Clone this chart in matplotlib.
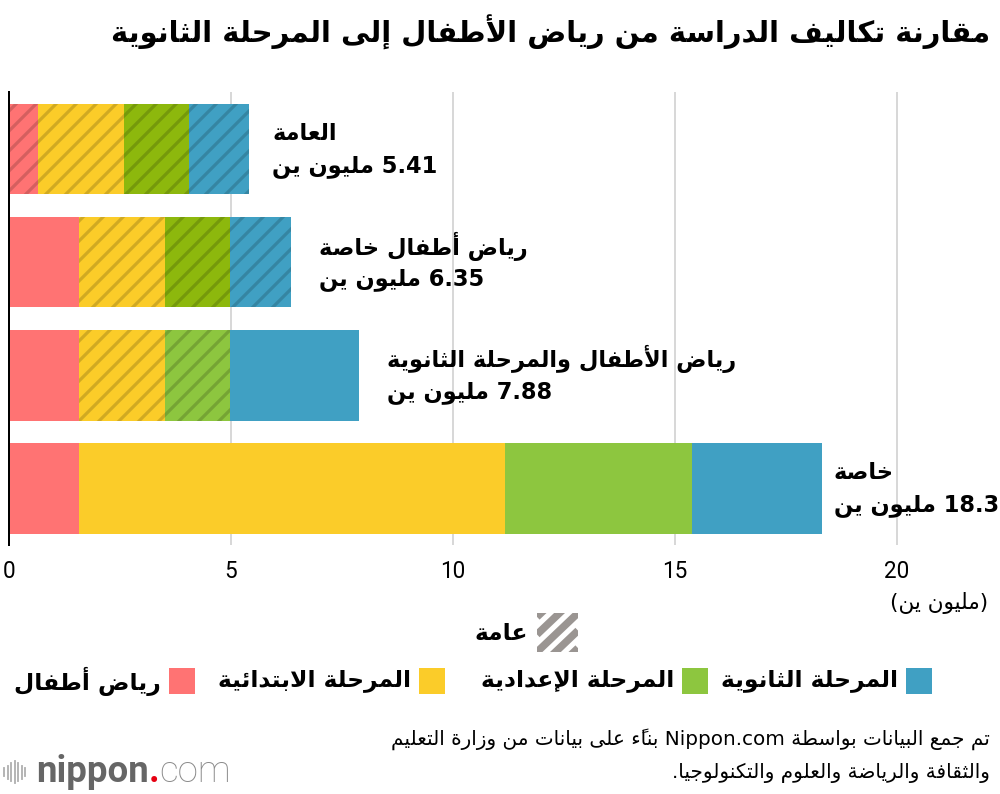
import matplotlib
matplotlib.use('Agg')
import matplotlib.pyplot as plt
import matplotlib.colors as mcolors
from matplotlib.patches import Rectangle
from matplotlib.lines import Line2D

# ---- data (millions of yen) ----
groups = ['العامة', 'رياض أطفال خاصة', 'رياض الأطفال والمرحلة الثانوية', 'خاصة']
totals = ['5.41', '6.35', '7.88', '18.3']
stages = ['رياض أطفال', 'المرحلة الابتدائية', 'المرحلة الإعدادية', 'المرحلة الثانوية']
kindergarten = [0.65, 1.58, 1.58, 1.58]
primary = [1.93, 1.93, 1.93, 9.59]
junior_high = [1.47, 1.47, 1.47, 4.22]
senior_high = [1.36, 1.37, 2.90, 2.91]
kindergarten_public = [True, False, False, False]
primary_public = [True, True, True, False]
junior_high_public = [True, True, True, False]
senior_high_public = [True, True, False, False]
x_ticks = [0, 5, 10, 15, 20]

title = 'مقارنة تكاليف الدراسة من رياض الأطفال إلى المرحلة الثانوية'
unit_label = '(مليون ين)'
public_label = 'عامة'
source_lines = ['تم جمع البيانات بواسطة Nippon.com بناءً على بيانات من وزارة التعليم',
                'والثقافة والرياضة والعلوم والتكنولوجيا.']

# ---- simple arabic shaping + bidi (matplotlib has no complex text layout) ----
HARAKAT = set(chr(c) for c in range(0x064B, 0x0653))
RIGHT_JOIN = {'آ': 0xFE81, 'أ': 0xFE83, 'ؤ': 0xFE85, 'إ': 0xFE87, 'ا': 0xFE8D, 'ة': 0xFE93,
              'د': 0xFEA9, 'ذ': 0xFEAB, 'ر': 0xFEAD, 'ز': 0xFEAF, 'و': 0xFEED, 'ى': 0xFEEF}
DUAL_JOIN = {'ئ': 0xFE89, 'ب': 0xFE8F, 'ت': 0xFE95, 'ث': 0xFE99, 'ج': 0xFE9D, 'ح': 0xFEA1,
             'خ': 0xFEA5, 'س': 0xFEB1, 'ش': 0xFEB5, 'ص': 0xFEB9, 'ض': 0xFEBD, 'ط': 0xFEC1,
             'ظ': 0xFEC5, 'ع': 0xFEC9, 'غ': 0xFECD, 'ف': 0xFED1, 'ق': 0xFED5, 'ك': 0xFED9,
             'ل': 0xFEDD, 'م': 0xFEE1, 'ن': 0xFEE5, 'ه': 0xFEE9, 'ي': 0xFEF1}
LAM_ALEF = {'آ': 0xFEF5, 'أ': 0xFEF7, 'إ': 0xFEF9, 'ا': 0xFEFB}
MIRROR = {'(': ')', ')': '('}


def ar(text):
    units = []  # [joining type, base code or char, marks]
    i = 0
    while i < len(text):
        c = text[i]
        if c in HARAKAT and units:
            units[-1][2] += c
        elif c == 'ل' and i + 1 < len(text) and text[i + 1] in LAM_ALEF:
            units.append(['R', LAM_ALEF[text[i + 1]], ''])
            i += 1
        elif c in DUAL_JOIN:
            units.append(['D', DUAL_JOIN[c], ''])
        elif c in RIGHT_JOIN:
            units.append(['R', RIGHT_JOIN[c], ''])
        elif c == 'ء':
            units.append(['U', 0xFE80, ''])
        else:
            units.append([None, c, ''])
        i += 1

    clusters = []
    for k, u in enumerate(units):
        t = u[0]
        if t is None:
            cls = 'L' if (u[1].isascii() and u[1].isalnum()) else 'N'
            clusters.append([cls, u[1]])
            continue
        prev_t = units[k - 1][0] if k > 0 else None
        next_t = units[k + 1][0] if k + 1 < len(units) else None
        jp = prev_t == 'D' and t in ('D', 'R')
        jn = t == 'D' and next_t in ('D', 'R')
        code = u[1]
        if t == 'D':
            code += {(False, False): 0, (True, False): 1, (False, True): 2, (True, True): 3}[(jp, jn)]
        elif t == 'R' and jp:
            code += 1
        clusters.append(['R', chr(code) + u[2]])

    # resolve neutrals (paragraph direction RTL)
    classes = [c[0] for c in clusters]
    for k, c in enumerate(classes):
        if c != 'N':
            continue
        before = next((x for x in reversed(classes[:k]) if x != 'N'), 'R')
        after = next((x for x in classes[k + 1:] if x != 'N'), 'R')
        clusters[k][0] = 'L' if (before == 'L' and after == 'L') else 'R'

    runs = []
    for cls, g in clusters:
        if runs and runs[-1][0] == cls:
            runs[-1][1].append(g)
        else:
            runs.append([cls, [g]])
    out = ''
    for cls, gs in reversed(runs):
        if cls == 'R':
            out += ''.join(MIRROR.get(g, g) for g in reversed(gs))
        else:
            out += ''.join(gs)
    return out


# ---- style ----
W, H, DPI = 1000, 794, 120
plt.rcParams['font.family'] = ['DejaVu Sans']
plt.rcParams['hatch.linewidth'] = 1.9

stage_colors = ['#FF7373', '#FBCC29', '#8DC63F', '#40A0C3']
green_dark = '#8DB80D'   # the public green in the first two bars is more olive


def fx(px):
    return px / W


def fy(py):
    return 1 - py / H


def darker(c, f=0.83):
    r, g, b = mcolors.to_rgb(c)
    return (r * f, g * f, b * f)


fig = plt.figure(figsize=(W / DPI, H / DPI), dpi=DPI)
px_per_unit = 44.4
ax = fig.add_axes([fx(9), fy(545), 22 * px_per_unit / W, (545 - 92.5) / H])

values = [kindergarten, primary, junior_high, senior_high]
public = [kindergarten_public, primary_public, junior_high_public, senior_high_public]
ypos = list(range(len(groups)))
left = [0.0] * len(groups)
for s in range(len(stages)):
    for i in ypos:
        col = stage_colors[s]
        if s == 2 and i < 2:
            col = green_dark
        if public[s][i]:
            ax.barh(i, values[s][i], left=left[i], height=0.8, color=col,
                    edgecolor=darker(col), linewidth=0, hatch='//', zorder=3)
        else:
            ax.barh(i, values[s][i], left=left[i], height=0.8, color=col,
                    linewidth=0, zorder=3)
    left = [left[i] + values[s][i] for i in ypos]

# labels at the bar ends
label_offsets = [23, 28, 28, 12]
for i in ypos:
    ax.annotate(ar(groups[i]), xy=(left[i], i), xytext=(label_offsets[i], 16),
                textcoords='offset pixels', ha='left', va='center',
                fontsize=13.5, fontweight='bold', annotation_clip=False)
    ax.annotate(ar(totals[i] + ' مليون ين'), xy=(left[i], i), xytext=(label_offsets[i], -17),
                textcoords='offset pixels', ha='left', va='center',
                fontsize=13.5, fontweight='bold', annotation_clip=False)

ax.set_xlim(0, 22)
ax.set_ylim(3.5, -0.5)
ax.set_xticks(x_ticks)
ax.set_xticklabels([str(t) for t in x_ticks], family='Roboto', fontsize=13.5)
ax.set_yticks([])
ax.tick_params(axis='x', length=0, pad=9)
ax.grid(axis='x', color='#cccccc', linewidth=0.9, zorder=0)
for side in ['top', 'right', 'bottom']:
    ax.spines[side].set_visible(False)
ax.spines['left'].set_linewidth(1.2)
ax.spines['left'].set_zorder(4)

# title, unit
fig.text(fx(990), fy(32), ar(title), ha='right', va='center', fontsize=17.4, fontweight='bold')
fig.text(fx(988), fy(603), ar(unit_label), ha='right', va='center', fontsize=13)

# legend: public hatch
hax = fig.add_axes([fx(537), fy(652), 41 / W, 39 / H])
hax.set_xlim(0, 1)
hax.set_ylim(0, 1)
hax.axis('off')
for c in [-0.9, -0.45, 0.0, 0.45, 0.9]:
    hax.plot([0, 1], [c, c + 1], color='#9A9592', linewidth=4.5, solid_capstyle='butt', clip_on=True)
fig.text(fx(528), fy(633), ar(public_label), ha='right', va='center', fontsize=14, fontweight='bold')

# legend: stages (right to left)
square_left = [169, 419, 682, 906]
for s in range(len(stages)):
    fig.add_artist(Rectangle((fx(square_left[s]), fy(694)), 26 / W, 26 / H,
                             transform=fig.transFigure, color=stage_colors[s], linewidth=0))
    fig.text(fx(square_left[s] - 8), fy(681), ar(stages[s]), ha='right', va='center',
             fontsize=14, fontweight='bold')

# source
fig.text(fx(990), fy(739), ar(source_lines[0]), ha='right', va='center', fontsize=12)
fig.text(fx(990), fy(773), ar(source_lines[1]), ha='right', va='center', fontsize=12)

# nippon.com logo
bar_x = [4, 7.5, 11, 14.5, 18, 21.5, 25]
bar_h = [8, 13, 18, 22, 18, 13, 8]
for x, h in zip(bar_x, bar_h):
    fig.add_artist(Line2D([fx(x), fx(x)], [fy(772 + h / 2), fy(772 - h / 2)],
                          transform=fig.transFigure, color='#b0b0b0', linewidth=1.1))
t1 = fig.text(fx(36), fy(790), 'nippon', ha='left', va='bottom', family='Roboto',
              fontweight='bold', fontsize=22, color='#666666')
t2 = ax.annotate('.', xy=(1, 0), xycoords=t1, ha='left', va='bottom', family='Roboto',
                 fontweight='bold', fontsize=22, color='#E60012', annotation_clip=False)
ax.annotate('com', xy=(1, 0), xycoords=t2, ha='left', va='bottom', family='Roboto',
            fontweight='light', fontsize=22, color='#8a8a8a', annotation_clip=False)

fig.savefig('out.png', dpi=DPI)
